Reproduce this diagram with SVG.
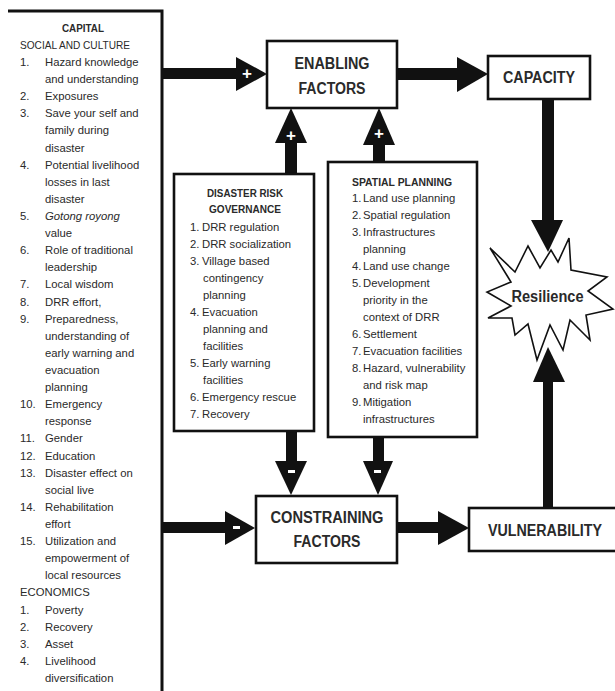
<svg xmlns="http://www.w3.org/2000/svg" width="615" height="691" viewBox="0 0 615 691">
<defs>
<style>
.box{fill:#fff;stroke:#111;stroke-width:2.6}
.arr{fill:#111}
.t{font-family:"Liberation Sans",Arial,sans-serif;font-size:11.3px;fill:#2a2a2a}
.hd{font-family:"Liberation Sans",Arial,sans-serif;font-size:11.5px;font-weight:bold;fill:#2a2a2a}
.big{font-family:"Liberation Sans",Arial,sans-serif;font-size:16px;font-weight:bold;fill:#2a2a2a}
.sign{font-family:"Liberation Sans",Arial,sans-serif;font-size:17px;font-weight:bold;fill:#fff}
</style>
</defs>
<rect width="615" height="691" fill="#fff"/>

<g id="capital">
<path d="M8,11 H162 V691" fill="none" stroke="#111" stroke-width="3"/>
<text class="hd" x="83" y="32" text-anchor="middle" textLength="42" lengthAdjust="spacingAndGlyphs">CAPITAL</text>
<text class="t" x="20" y="49" textLength="110" lengthAdjust="spacingAndGlyphs">SOCIAL AND CULTURE</text>
<text class="t">
<tspan x="20" y="66">1.</tspan><tspan x="45" y="66">Hazard knowledge</tspan>
<tspan x="45" y="83.1">and understanding</tspan>
<tspan x="20" y="100.2">2.</tspan><tspan x="45" y="100.2">Exposures</tspan>
<tspan x="20" y="117.3">3.</tspan><tspan x="45" y="117.3">Save your self and</tspan>
<tspan x="45" y="134.4">family during</tspan>
<tspan x="45" y="151.6">disaster</tspan>
<tspan x="20" y="168.7">4.</tspan><tspan x="45" y="168.7">Potential livelihood</tspan>
<tspan x="45" y="185.8">losses in last</tspan>
<tspan x="45" y="202.9">disaster</tspan>
<tspan x="20" y="220">5.</tspan><tspan x="45" y="220" font-style="italic">Gotong royong</tspan>
<tspan x="45" y="237.1">value</tspan>
<tspan x="20" y="254.2">6.</tspan><tspan x="45" y="254.2">Role of traditional</tspan>
<tspan x="45" y="271.3">leadership</tspan>
<tspan x="20" y="288.4">7.</tspan><tspan x="45" y="288.4">Local wisdom</tspan>
<tspan x="20" y="305.5">8.</tspan><tspan x="45" y="305.5">DRR effort,</tspan>
<tspan x="20" y="322.7">9.</tspan><tspan x="45" y="322.7">Preparedness,</tspan>
<tspan x="45" y="339.8">understanding of</tspan>
<tspan x="45" y="356.9">early warning and</tspan>
<tspan x="45" y="374">evacuation</tspan>
<tspan x="45" y="391.1">planning</tspan>
<tspan x="20" y="408.2">10.</tspan><tspan x="45" y="408.2">Emergency</tspan>
<tspan x="45" y="425.3">response</tspan>
<tspan x="20" y="442.4">11.</tspan><tspan x="45" y="442.4">Gender</tspan>
<tspan x="20" y="459.5">12.</tspan><tspan x="45" y="459.5">Education</tspan>
<tspan x="20" y="476.6">13.</tspan><tspan x="45" y="476.6">Disaster effect on</tspan>
<tspan x="45" y="493.8">social live</tspan>
<tspan x="20" y="510.9">14.</tspan><tspan x="45" y="510.9">Rehabilitation</tspan>
<tspan x="45" y="528">effort</tspan>
<tspan x="20" y="545.1">15.</tspan><tspan x="45" y="545.1">Utilization and</tspan>
<tspan x="45" y="562.2">empowerment  of</tspan>
<tspan x="45" y="579.3">local resources</tspan>
<tspan x="20" y="596.4">ECONOMICS</tspan>
<tspan x="20" y="613.5">1.</tspan><tspan x="45" y="613.5">Poverty</tspan>
<tspan x="20" y="630.6">2.</tspan><tspan x="45" y="630.6">Recovery</tspan>
<tspan x="20" y="647.7">3.</tspan><tspan x="45" y="647.7">Asset</tspan>
<tspan x="20" y="664.9">4.</tspan><tspan x="45" y="664.9">Livelihood</tspan>
<tspan x="45" y="682">diversification</tspan>
</text>
</g>

<g id="connectors">
<!-- capital -> enabling -->
<rect class="arr" x="162" y="68" width="76" height="11"/>
<polygon class="arr" points="236,57 267,74 236,91"/>
<text class="sign" x="247" y="79" text-anchor="middle">+</text>
<!-- enabling -> capacity -->
<rect class="arr" x="397" y="68" width="62" height="12"/>
<polygon class="arr" points="457,57 488,74 457,92"/>
<!-- DRG -> enabling -->
<rect class="arr" x="285" y="141" width="12" height="34"/>
<polygon class="arr" points="275,143 291,108 307,143"/>
<text class="sign" x="291" y="141" text-anchor="middle">+</text>
<!-- spatial -> enabling -->
<rect class="arr" x="373" y="143" width="12" height="20"/>
<polygon class="arr" points="363,145 379,108 395,145"/>
<text class="sign" x="379" y="139" text-anchor="middle">+</text>
<!-- DRG -> constraining -->
<rect class="arr" x="286" y="430" width="11" height="33"/>
<polygon class="arr" points="275,461 291,495 307,461"/>
<rect x="288" y="470" width="7" height="3" fill="#fff"/>
<!-- spatial -> constraining -->
<rect class="arr" x="373" y="436" width="11" height="27"/>
<polygon class="arr" points="363,461 378,495 393,461"/>
<rect x="374" y="470" width="7" height="3" fill="#fff"/>
<!-- capital -> constraining -->
<rect class="arr" x="162" y="522" width="65" height="11"/>
<polygon class="arr" points="225,511 255,528 225,545"/>
<rect x="233" y="526" width="7" height="3" fill="#fff"/>
<!-- constraining -> vulnerability -->
<rect class="arr" x="397" y="522" width="43" height="11"/>
<polygon class="arr" points="438,511 469,528 438,545"/>
</g>

<g id="enabling">
<rect class="box" x="267" y="41" width="130" height="67"/>
<text class="big" x="332" y="69" text-anchor="middle" textLength="75" lengthAdjust="spacingAndGlyphs">ENABLING</text>
<text class="big" x="332" y="94" text-anchor="middle" textLength="67" lengthAdjust="spacingAndGlyphs">FACTORS</text>
</g>

<g id="capacity">
<rect class="box" x="488" y="56" width="102" height="43"/>
<text class="big" x="539" y="83" text-anchor="middle" textLength="72" lengthAdjust="spacingAndGlyphs">CAPACITY</text>
</g>

<g id="drg">
<rect class="box" x="174" y="174" width="140" height="257" stroke-width="3"/>
<text class="hd" x="245" y="197" text-anchor="middle" textLength="76" lengthAdjust="spacingAndGlyphs">DISASTER RISK</text>
<text class="hd" x="245" y="213" text-anchor="middle" textLength="72" lengthAdjust="spacingAndGlyphs">GOVERNANCE</text>
<text class="t">
<tspan x="190" y="231">1.</tspan><tspan x="202" y="231">DRR regulation</tspan>
<tspan x="190" y="248">2.</tspan><tspan x="202" y="248">DRR socialization</tspan>
<tspan x="190" y="265">3.</tspan><tspan x="202" y="265">Village based</tspan>
<tspan x="203" y="282">contingency</tspan>
<tspan x="203" y="299">planning</tspan>
<tspan x="190" y="316">4.</tspan><tspan x="202" y="316">Evacuation</tspan>
<tspan x="203" y="333">planning and</tspan>
<tspan x="203" y="350">facilities</tspan>
<tspan x="190" y="367">5.</tspan><tspan x="202" y="367">Early warning</tspan>
<tspan x="203" y="384">facilities</tspan>
<tspan x="190" y="401">6.</tspan><tspan x="202" y="401">Emergency rescue</tspan>
<tspan x="190" y="418">7.</tspan><tspan x="202" y="418">Recovery</tspan>
</text>
</g>

<g id="spatial">
<rect class="box" x="328" y="162" width="149" height="275" stroke-width="3"/>
<text class="hd" x="402" y="186" text-anchor="middle" textLength="100" lengthAdjust="spacingAndGlyphs">SPATIAL PLANNING</text>
<text class="t">
<tspan x="352" y="202">1.</tspan><tspan x="363" y="202">Land use planning</tspan>
<tspan x="352" y="219">2.</tspan><tspan x="363" y="219">Spatial regulation</tspan>
<tspan x="352" y="236">3.</tspan><tspan x="363" y="236">Infrastructures</tspan>
<tspan x="363" y="253">planning</tspan>
<tspan x="352" y="270">4.</tspan><tspan x="363" y="270">Land use change</tspan>
<tspan x="352" y="287">5.</tspan><tspan x="363" y="287">Development</tspan>
<tspan x="363" y="304">priority in the</tspan>
<tspan x="363" y="321">context of DRR</tspan>
<tspan x="352" y="338">6.</tspan><tspan x="363" y="338">Settlement</tspan>
<tspan x="352" y="355">7.</tspan><tspan x="363" y="355">Evacuation facilities</tspan>
<tspan x="352" y="372">8.</tspan><tspan x="363" y="372">Hazard, vulnerability</tspan>
<tspan x="363" y="389">and risk map</tspan>
<tspan x="352" y="406">9.</tspan><tspan x="363" y="406">Mitigation</tspan>
<tspan x="363" y="423">infrastructures</tspan>
</text>
</g>

<g id="constraining">
<rect class="box" x="256" y="496" width="141" height="67"/>
<text class="big" x="327" y="523" text-anchor="middle" textLength="113" lengthAdjust="spacingAndGlyphs">CONSTRAINING</text>
<text class="big" x="327" y="547" text-anchor="middle" textLength="67" lengthAdjust="spacingAndGlyphs">FACTORS</text>
</g>

<g id="vulnerability">
<rect class="box" x="469" y="508" width="150" height="43"/>
<text class="big" x="545" y="536" text-anchor="middle" textLength="114" lengthAdjust="spacingAndGlyphs">VULNERABILITY</text>
</g>

<g id="resilience">
<polygon points="490,248 515,272 528,246 540,268 551,250 558,262 569,238 571,270 607,277 588,291 613,309 586,315 590,340 570,320 563,350 550,325 537,360 528,324 515,335 512,318 488,318 511,306 487,292 511,282" fill="#fff" stroke="#111" stroke-width="1.6" stroke-linejoin="miter"/>
<text class="big" x="547.5" y="302" text-anchor="middle" textLength="72" lengthAdjust="spacingAndGlyphs">Resilience</text>
</g>

<g id="connectors-resilience">
<rect class="arr" x="542" y="99" width="12" height="123"/>
<polygon class="arr" points="531,220 548,252 563,220"/>
<rect class="arr" x="543" y="380" width="10" height="128"/>
<polygon class="arr" points="533,382 548,347 565,382"/>
</g>
</svg>
